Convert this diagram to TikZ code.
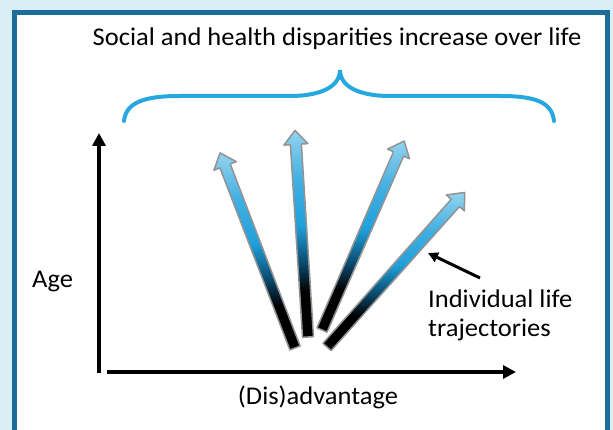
\documentclass[tikz,border=0pt]{standalone}
\usepackage{fontspec}
\setmainfont{Carlito}[FakeStretch=1.04]
\usetikzlibrary{positioning,arrows.meta}

\definecolor{framebg}{HTML}{D9EEF5}
\definecolor{frameblue}{HTML}{1B6E99}
\definecolor{bracecol}{HTML}{27A7DF}
\definecolor{trajdark}{HTML}{0A4A6E}
\definecolor{trajblue}{HTML}{1FA0DA}
\definecolor{trajlight}{HTML}{93D3F0}
\pgfdeclareverticalshading{trajshade}{100bp}{color(0bp)=(black); color(36bp)=(black); color(43bp)=(trajdark); color(52bp)=(trajblue); color(63bp)=(trajblue!70!trajlight); color(75bp)=(trajlight); color(100bp)=(trajlight)}

\begin{document}
\begin{tikzpicture}[
    x=1pt, y=1pt,
    every node/.style = {font=\fontsize{25.5}{29}\selectfont, inner sep=0pt},
    axis/.style       = {line width=4pt, -{Triangle[length=13pt, width=13pt]}},
    brace/.style      = {bracecol, line width=4pt, line cap=round},
    pointer/.style    = {line width=3pt, -{Triangle[length=10pt, width=10pt]}},
    pics/traj/.style  = {code={
        \shade[shading=trajshade, draw=gray!85, line width=1.5pt, line join=round]
            (-5.5,0) -- (-5.5,#1-14) -- (-12,#1-14) -- (0,#1)
            -- (12,#1-14) -- (5.5,#1-14) -- (5.5,0) -- cycle;
    }},
]

% --- frame ---
\useasboundingbox (0,0) rectangle (613,430);
\clip (0,0) rectangle (613,430);
\fill[framebg] (0,0) rectangle (613,430);
\draw[frameblue, line width=4.5pt, fill=white] (14.7,-20) rectangle (607.3,417.5);

% --- texts ---
\node[anchor=base] (title) at (337,384) {Social and health disparities increase over life};
\node[anchor=base west] (age) at (32,142) {Age};
\node[anchor=base] (adv) at (318,25) {(Dis)advantage};
\node[anchor=base west, align=left] (lbl) at (428,93) {Individual life\\trajectories};

% --- brace ---
\draw[brace] (124,309) .. controls (126,328) and (145,334) .. (180,334) -- (290,334)
    .. controls (322,334) and (340,344) .. (340,360)
    .. controls (340,344) and (358,334) .. (390,334) -- (500,334)
    .. controls (535,334) and (552,328) .. (554,309);

% --- axes ---
\coordinate (origin) at (99,57);
\coordinate (ytop)   at (99,297);
\coordinate (xstart) at (107,58);
\coordinate (xend)   at (516,58);
\draw[axis] (origin) -- (ytop);
\draw[axis] (xstart) -- (xend);

% --- trajectories ---
\coordinate (b1) at (295,82);
\coordinate (b2) at (308,93);
\coordinate (b3) at (322,100);
\coordinate (b4) at (327,83);
\pic[rotate=21]    at (b1) {traj=209};
\pic[rotate=3.6]   at (b2) {traj=207};
\pic[rotate=-23.5] at (b3) {traj=206};
\pic[rotate=-41.7] at (b4) {traj=207};

% --- pointer ---
\coordinate (ptrtail) at (480,152);
\coordinate (ptrtip)  at (428,177);
\draw[pointer] (ptrtail) -- (ptrtip);

\end{tikzpicture}
\end{document}
